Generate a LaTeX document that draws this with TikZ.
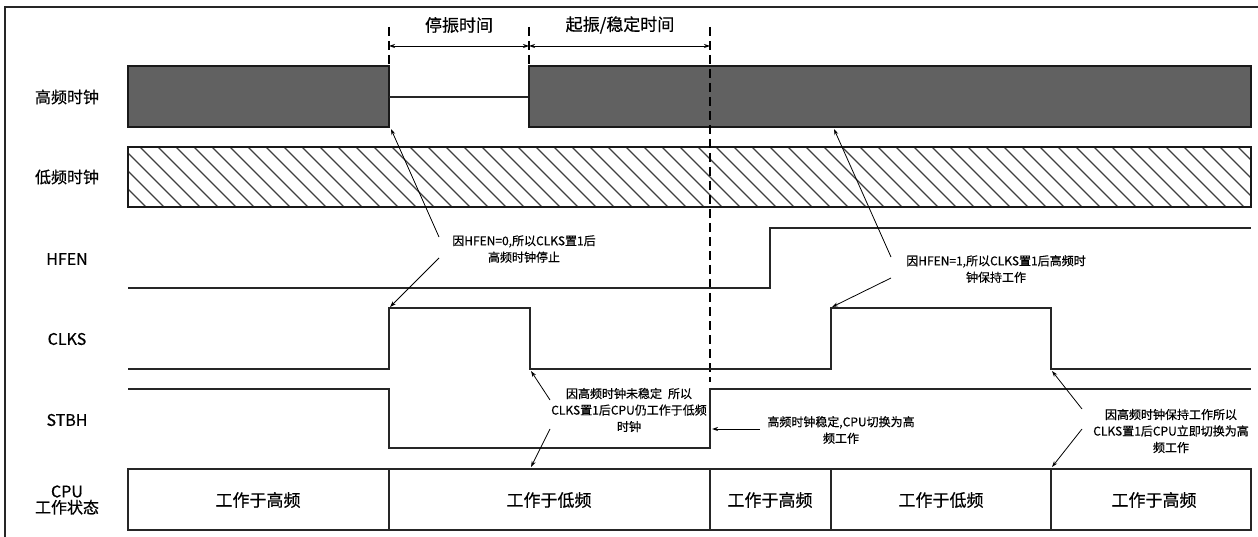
\documentclass[tikz,border=0pt]{standalone}
\usepackage{fontspec}
\setmainfont{Noto Sans CJK SC}[FakeBold=0.5]
\usetikzlibrary{arrows.meta}
\tikzset{
  sig/.style={line width=1.3pt, black!85},
  frame/.style={line width=1.1pt, black!85},
  ann/.style={-{Stealth[length=6pt,width=4pt]}, line width=0.8pt},
  dim/.style={{Stealth[length=6pt,width=4pt]}-{Stealth[length=6pt,width=4pt]}, line width=0.8pt},
  vdash/.style={line width=1.2pt, dash pattern=on 9pt off 5pt},
  rowlab/.style={font=\fontsize{16}{18}\selectfont, align=center, inner sep=0pt},
  statelab/.style={font=\fontsize{17}{19}\selectfont, inner sep=0pt},
  note/.style={font=\fontsize{12}{16.5}\selectfont, align=center, inner sep=0pt},
  hf/.style={fill=black!62, draw=black!90, line width=1.2pt},
  lf/.style={draw=black!90, line width=1.2pt},
}
\begin{document}
\begin{tikzpicture}[x=1pt,y=-1pt]
\useasboundingbox (0,0) rectangle (1258,537);
\fill[white] (0,0) rectangle (1258,537);
% outer frame
\draw[frame] (5,7) rectangle (1266,545);

% row labels
\node[rowlab] (lhf) at (67,97) {高频时钟};
\node[rowlab] (llf) at (67,177) {低频时钟};
\node[rowlab] (lhfen) at (67,259) {HFEN};
\node[rowlab] (lclks) at (67,339) {CLKS};
\node[rowlab] (lstbh) at (67,420) {STBH};
\node[rowlab] (lcpu) at (67,500) {CPU\\[-2pt]工作状态};

% high frequency clock
\draw[hf] (128,66) rectangle (389,127);
\draw[sig] (389,97) -- (529,97);
\draw[hf] (529,66) rectangle (1251,127);

% low frequency clock (hatched)
\begin{scope}
\clip (128,147) rectangle (1251,207);
\foreach \i in {0,...,66} {
  \draw[line width=1.1pt, black!75] ({128-60+18*\i},147) -- ({128+18*\i},207);
}
\end{scope}
\draw[lf] (128,147) rectangle (1251,207);

% dashed markers and time spans
\coordinate (m1t) at (389,27); \coordinate (m1b) at (389,65);
\coordinate (m2t) at (529,27); \coordinate (m2b) at (529,65);
\coordinate (m3t) at (710,27); \coordinate (m3b) at (710,382);
\draw[vdash] (m1t) -- (m1b);
\draw[vdash] (m2t) -- (m2b);
\draw[vdash] (m3t) -- (m3b);
\coordinate (d1) at (389,46); \coordinate (d2) at (529,46); \coordinate (d3) at (710,46);
\draw[dim] (d1) -- (d2);
\draw[dim] (d2) -- (d3);
\node[rowlab, font=\fontsize{17}{19}\selectfont] (t1) at (459,25) {停振时间};
\node[rowlab, font=\fontsize{17}{19}\selectfont] (t2) at (620,25) {起振/稳定时间};

% HFEN
\draw[sig] (128,288) -- (770,288) -- (770,228) -- (1251,228);
% CLKS
\draw[sig] (128,369) -- (389,369) -- (389,308) -- (530,308) -- (530,369)
  -- (831,369) -- (831,308) -- (1051,308) -- (1051,369) -- (1251,369);
% STBH
\draw[sig] (128,389) -- (389,389) -- (389,448) -- (710,448) -- (710,389) -- (1251,389);

% CPU state
\draw[sig] (128,469) rectangle (1251,530);
\draw[sig] (389,469) -- (389,530);
\draw[sig] (710,469) -- (710,530);
\draw[sig] (831,469) -- (831,530);
\draw[sig] (1051,469) -- (1051,530);
\node[statelab] (s1) at (258,500) {工作于高频};
\node[statelab] (s2) at (549,500) {工作于低频};
\node[statelab] (s3) at (770,500) {工作于高频};
\node[statelab] (s4) at (941,500) {工作于低频};
\node[statelab] (s5) at (1154,500) {工作于高频};

% notes
\node[note] (n1) at (524,249) {因HFEN=0,所以CLKS置1后\\高频时钟停止};
\node[note] (n2) at (996,269) {因HFEN=1,所以CLKS置1后高频时\\钟保持工作};
\node[note] (n3) at (629,410) {因高频时钟未稳定\enspace 所以\\CLKS置1后CPU仍工作于低频\\时钟};
\node[note] (n4) at (841,430) {高频时钟稳定,CPU切换为高\\频工作};
\node[note] (n5) at (1171,431) {因高频时钟保持工作所以\\CLKS置1后CPU立即切换为高\\频工作};

% annotation arrows
\coordinate (a1s) at (439,237); \coordinate (a1e) at (391,129);
\coordinate (a2s) at (439,258); \coordinate (a2e) at (390,307);
\coordinate (a3s) at (891,257); \coordinate (a3e) at (834,129);
\coordinate (a4s) at (891,278); \coordinate (a4e) at (832,307);
\coordinate (a5s) at (550,400); \coordinate (a5e) at (531,371);
\coordinate (a6s) at (550,429); \coordinate (a6e) at (531,467);
\coordinate (a7s) at (760,429); \coordinate (a7e) at (712,429);
\coordinate (a8s) at (1082,409); \coordinate (a8e) at (1052,371);
\coordinate (a9s) at (1082,429); \coordinate (a9e) at (1052,467);
\foreach \k in {1,...,9} { \draw[ann] (a\k s) -- (a\k e); }
\end{tikzpicture}
\end{document}
